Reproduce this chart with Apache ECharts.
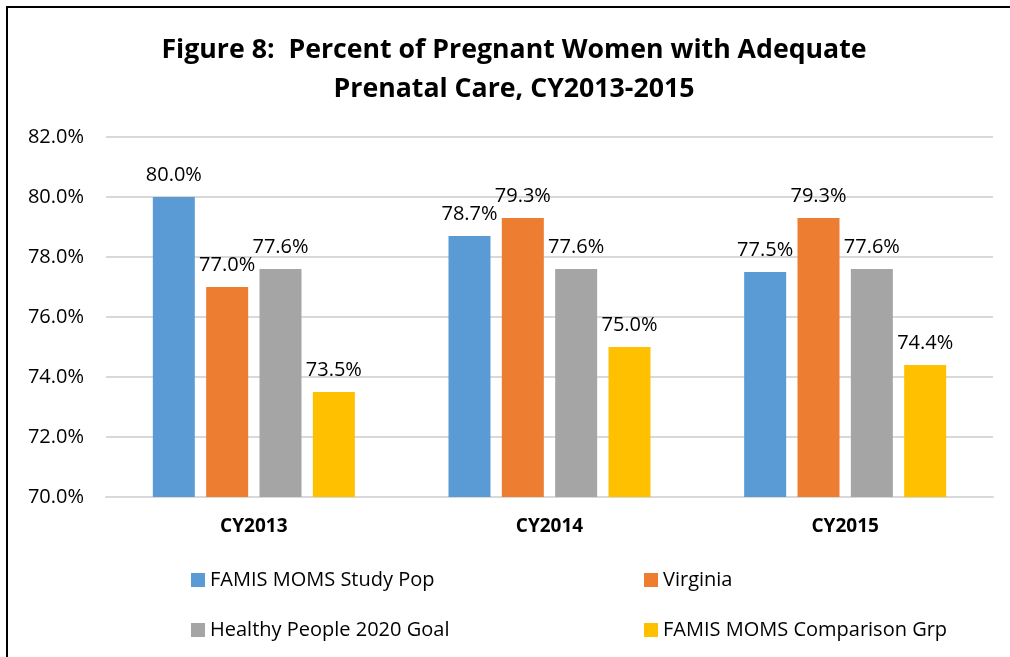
<!DOCTYPE html>
<html>
<head>
<meta charset="utf-8">
<script src="https://cdn.jsdelivr.net/npm/echarts@6/dist/echarts.min.js"></script>
<style>
  body { margin: 0; background: #fff; }
  #frame { position: absolute; left: 6px; top: 6px; width: 1100px; height: 700px; border-left: 2px solid #000; border-top: 2px solid #000; }
  #chart { position: absolute; left: 0; top: 0; width: 1010px; height: 657px; }
</style>
</head>
<body>
<div id="frame"></div>
<div id="chart"></div>
<script>
const categories = ['CY2013', 'CY2014', 'CY2015'];
const studyPop = [80.0, 78.7, 77.5];
const virginia = [77.0, 79.3, 79.3];
const healthyPeople = [77.6, 77.6, 77.6];
const comparisonGrp = [73.5, 75.0, 74.4];

const font = '"Open Sans", "Noto Sans", sans-serif';

const chart = echarts.init(document.getElementById('chart'));

const pct = v => v.toFixed(1) + '%';

const makeSeries = (name, data) => ({
  name: name,
  type: 'bar',
  data: data,
  barWidth: 42,
  barGap: '27%',
  label: {
    show: true,
    position: 'top',
    distance: 12,
    color: '#000',
    fontFamily: font,
    fontSize: 20,
    formatter: p => pct(p.value)
  }
});

const option = {
  animation: false,
  color: ['#5B9BD5', '#ED7D31', '#A5A5A5', '#FFC000'],
  title: {
    text: 'Figure 8:  Percent of Pregnant Women with Adequate\nPrenatal Care, CY2013-2015',
    left: 514,
    top: 31,
    padding: 0,
    textAlign: 'center',
    textStyle: {
      fontFamily: font,
      fontSize: 26.7,
      fontWeight: 'bold',
      color: '#000',
      lineHeight: 39
    }
  },
  grid: {
    left: 106,
    right: 17,
    top: 137,
    bottom: 160
  },
  legend: [
    {
      data: ['FAMIS MOMS Study Pop', 'Healthy People 2020 Goal'],
      orient: 'vertical',
      left: 186,
      top: 565,
      itemWidth: 14,
      itemHeight: 14,
      itemGap: 30,
      icon: 'rect',
      textStyle: { fontFamily: font, fontSize: 20, color: '#000' }
    },
    {
      data: ['Virginia', 'FAMIS MOMS Comparison Grp'],
      orient: 'vertical',
      left: 639,
      top: 565,
      itemWidth: 14,
      itemHeight: 14,
      itemGap: 30,
      icon: 'rect',
      textStyle: { fontFamily: font, fontSize: 20, color: '#000' }
    }
  ],
  xAxis: {
    type: 'category',
    data: categories,
    axisTick: { show: false },
    axisLine: { lineStyle: { color: '#d9d9d9', width: 2 } },
    axisLabel: {
      margin: 20,
      color: '#000',
      fontFamily: font,
      fontSize: 19,
      fontWeight: 'bold'
    }
  },
  yAxis: {
    type: 'value',
    min: 70,
    max: 82,
    interval: 2,
    axisLine: { show: false },
    axisTick: { show: false },
    splitLine: { lineStyle: { color: '#d9d9d9', width: 2 } },
    axisLabel: {
      margin: 22,
      color: '#000',
      fontFamily: font,
      fontSize: 20,
      formatter: v => pct(v)
    }
  },
  series: [
    makeSeries('FAMIS MOMS Study Pop', studyPop),
    makeSeries('Virginia', virginia),
    makeSeries('Healthy People 2020 Goal', healthyPeople),
    makeSeries('FAMIS MOMS Comparison Grp', comparisonGrp)
  ]
};

chart.setOption(option);
</script>
</body>
</html>
